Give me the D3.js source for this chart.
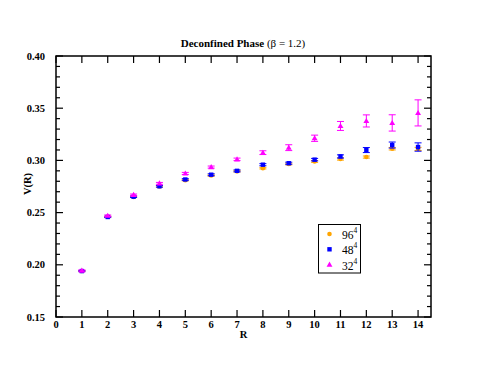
<!DOCTYPE html>
<html>
<head>
<meta charset="utf-8">
<script src="https://cdn.jsdelivr.net/npm/d3@7"></script>
<style>
  body { margin: 0; background: #fff; }
</style>
</head>
<body>
<div class="graph-container"></div>
<script>
// R values
const rValues = [1, 2, 3, 4, 5, 6, 7, 8, 9, 10, 11, 12, 13, 14];

// 96^4 lattice
const v96 = [0.194, 0.246, 0.265, 0.275, 0.281, 0.2855, 0.2895, 0.2926, 0.2965, 0.299, 0.3013, 0.3032, 0.3112, 0.311];
const e96 = [0.0005, 0.0005, 0.0006, 0.0006, 0.0006, 0.0007, 0.0007, 0.0008, 0.0008, 0.0009, 0.001, 0.001, 0.0012, 0.0015];

// 48^4 lattice
const v48 = [0.194, 0.2458, 0.2652, 0.2752, 0.2817, 0.2863, 0.2900, 0.2959, 0.2973, 0.3007, 0.3038, 0.3099, 0.3147, 0.3128];
const e48 = [0.0006, 0.0006, 0.0007, 0.0008, 0.0008, 0.0009, 0.0009, 0.001, 0.001, 0.0012, 0.0015, 0.0024, 0.0029, 0.004];

// 32^4 lattice
const v32 = [0.1945, 0.247, 0.267, 0.278, 0.2875, 0.2936, 0.301, 0.3074, 0.3122, 0.3212, 0.333, 0.3378, 0.3359, 0.3455];
const e32 = [0.0006, 0.0007, 0.0008, 0.0009, 0.001, 0.001, 0.0012, 0.0018, 0.0028, 0.003, 0.0043, 0.0058, 0.0078, 0.0125];

const xTicks = d3.range(0, 15);
const yTicks = [0.15, 0.20, 0.25, 0.30, 0.35, 0.40];

const series = [
  { name: "96", values: v96, errors: e96, color: "#ffa500", shape: "circle" },
  { name: "48", values: v48, errors: e48, color: "#0000ff", shape: "square" },
  { name: "32", values: v32, errors: e32, color: "#ff00ff", shape: "triangle" }
];

const dims = { width: 485, height: 374, left: 56, right: 431, top: 56, bottom: 317 };

const svg = d3.select(".graph-container")
  .append("svg")
  .attr("width", dims.width)
  .attr("height", dims.height)
  .attr("font-family", "'Liberation Serif', 'Times New Roman', Times, serif");

const x = d3.scaleLinear().domain([0, 14.5]).range([dims.left, dims.right]);
const y = d3.scaleLinear().domain([0.15, 0.40]).range([dims.bottom, dims.top]);

const minorY = d3.range(0.15, 0.4001, 0.01);

// frame
svg.append("rect")
  .attr("x", dims.left).attr("y", dims.top)
  .attr("width", dims.right - dims.left).attr("height", dims.bottom - dims.top)
  .attr("fill", "none").attr("stroke", "#000").attr("stroke-width", 1.5);

const ticks = svg.append("g").attr("stroke", "#000").attr("stroke-width", 1.2);

// x major ticks, bottom and top, pointing inward
xTicks.forEach(t => {
  ticks.append("line").attr("x1", x(t)).attr("x2", x(t)).attr("y1", dims.bottom).attr("y2", dims.bottom - 7);
  ticks.append("line").attr("x1", x(t)).attr("x2", x(t)).attr("y1", dims.top).attr("y2", dims.top + 7);
});
// y ticks
minorY.forEach(t => {
  const major = yTicks.some(m => Math.abs(m - t) < 1e-6);
  const len = major ? 7 : 4;
  ticks.append("line").attr("x1", dims.left).attr("x2", dims.left + len).attr("y1", y(t)).attr("y2", y(t));
  ticks.append("line").attr("x1", dims.right).attr("x2", dims.right - len).attr("y1", y(t)).attr("y2", y(t));
});

// tick labels
svg.append("g").selectAll("text").data(xTicks).enter().append("text")
  .attr("x", d => x(d)).attr("y", dims.bottom + 11)
  .attr("text-anchor", "middle").attr("font-size", 10.5).attr("font-weight", "bold")
  .text(d => d);

svg.append("g").selectAll("text").data(yTicks).enter().append("text")
  .attr("x", dims.left - 11).attr("y", d => y(d) + 3.5)
  .attr("text-anchor", "end").attr("font-size", 10.5).attr("font-weight", "bold")
  .text(d => d.toFixed(2));

// axis titles
svg.append("text").attr("x", (dims.left + dims.right) / 2).attr("y", 338)
  .attr("text-anchor", "middle").attr("font-size", 10.5).attr("font-weight", "bold").text("R");

svg.append("text").attr("transform", `translate(31,184) rotate(-90)`)
  .attr("text-anchor", "middle").attr("font-size", 10.5).attr("font-weight", "bold").text("V(R)");

// title
const title = svg.append("text").attr("x", 243).attr("y", 46.5)
  .attr("text-anchor", "middle").attr("font-size", 11);
title.append("tspan").attr("font-weight", "bold").text("Deconfined Phase ");
title.append("tspan").text("(β = 1.2)");

const triangle = d3.symbol().type(d3.symbolTriangle).size(15);

let drawMarker = (g, s, cx, cy) => {
  if (s.shape === "circle") {
    g.append("circle").attr("cx", cx).attr("cy", cy).attr("r", 2.3).attr("fill", s.color);
  } else if (s.shape === "square") {
    g.append("rect").attr("x", cx - 2.2).attr("y", cy - 2.2).attr("width", 4.4).attr("height", 4.4).attr("fill", s.color);
  } else {
    g.append("path").attr("d", triangle()).attr("transform", `translate(${cx},${cy + 0.4})`).attr("fill", s.color);
  }
};

// data
series.forEach(s => {
  const g = svg.append("g").attr("class", "series-" + s.name);
  rValues.forEach((r, i) => {
    const cx = x(r);
    const y1 = y(s.values[i] + s.errors[i]);
    const y2 = y(s.values[i] - s.errors[i]);
    g.append("line").attr("x1", cx).attr("x2", cx).attr("y1", y1).attr("y2", y2)
      .attr("stroke", s.color).attr("stroke-width", 1);
    [y1, y2].forEach(yy => {
      g.append("line").attr("x1", cx - 3.5).attr("x2", cx + 3.5).attr("y1", yy).attr("y2", yy)
        .attr("stroke", s.color).attr("stroke-width", 1);
    });
    drawMarker(g, s, cx, y(s.values[i]));
  });
});

// legend
const legend = svg.append("g").attr("class", "legend");
legend.append("rect").attr("x", 318.5).attr("y", 224.5).attr("width", 42).attr("height", 48.5)
  .attr("fill", "#fff").attr("stroke", "#000").attr("stroke-width", 1);

series.forEach((s, i) => {
  const ly = 234 + i * 15.3;
  drawMarker(legend, s, 329.5, ly);
  const t = legend.append("text").attr("x", 342).attr("y", ly + 5).attr("font-size", 11.5);
  t.append("tspan").text(s.name);
  t.append("tspan").attr("font-size", 7.5).attr("dy", -6).text("4");
});
</script>
</body>
</html>
